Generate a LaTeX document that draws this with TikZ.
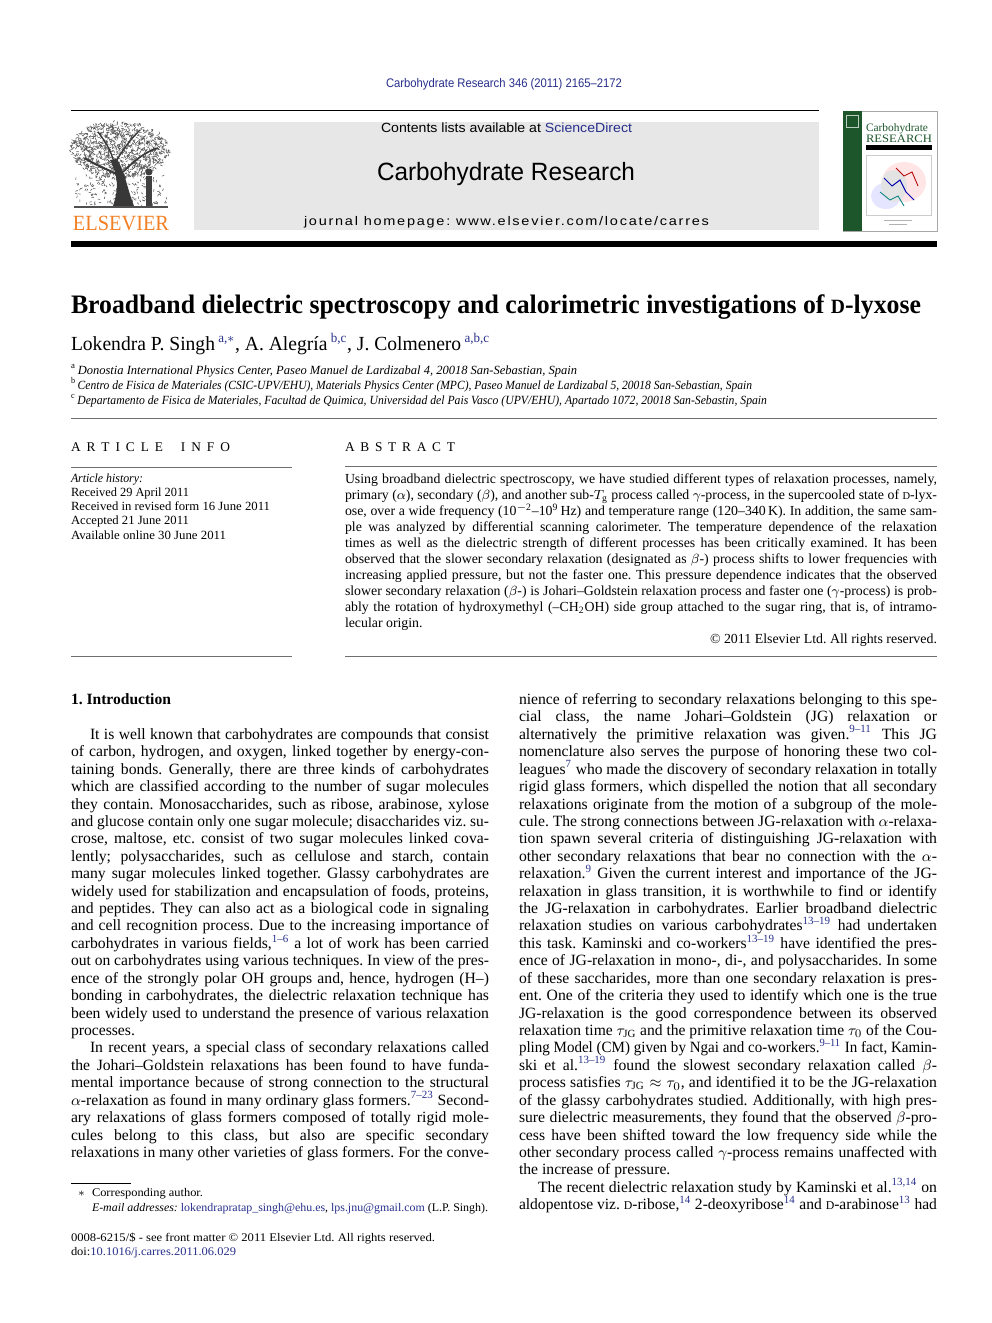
\documentclass[tikz,border=0pt]{standalone}
\usepackage{fontspec}
\setmainfont{Liberation Serif}
\setsansfont{Liberation Sans}
\newfontfamily\jsans[LetterSpace=12]{Liberation Sans}
\usepackage{graphicx}
\usepackage{xcolor}
\definecolor{lb}{RGB}{40,48,140}
\definecolor{elsor}{RGB}{243,128,36}
\definecolor{boxgray}{RGB}{231,231,231}
\definecolor{covgreen}{RGB}{30,86,44}
\definecolor{rulegray}{RGB}{110,110,110}
\definecolor{treegray}{RGB}{80,80,80}
\frenchspacing

\newsavebox\fitbox
\newcommand\fitline[2]{\sbox\fitbox{#2}\ifdim\wd\fitbox>#1\relax\resizebox{#1}{\height}{\usebox\fitbox}\else\makebox[#1][s]{#2}\fi}
\newcommand\fw[2]{\resizebox{#1}{\height}{#2}}
\newcommand\fsc[1]{\scalebox{0.76}{#1}}
\newcommand\supref[1]{\textsuperscript{\color{lb}#1}}
\newcounter{nid}

\newcommand\lcJ[2]{\stepcounter{nid}\node[body] (l\arabic{nid}) at (71,{704.5+(#1+1)*17.42}) {\fitline{250.8pt}{#2}};}
\newcommand\lcI[2]{\stepcounter{nid}\node[body] (l\arabic{nid}) at (90,{704.5+(#1+1)*17.42}) {\fitline{239.4pt}{#2}};}
\newcommand\lcE[2]{\stepcounter{nid}\node[body] (l\arabic{nid}) at (71,{704.5+(#1+1)*17.42}) {#2};}
\newcommand\rcJ[2]{\stepcounter{nid}\node[body] (r\arabic{nid}) at (519,{704.5+(#1-1)*17.42}) {\fitline{250.8pt}{#2}};}
\newcommand\rcI[2]{\stepcounter{nid}\node[body] (r\arabic{nid}) at (538,{704.5+(#1-1)*17.42}) {\fitline{239.4pt}{#2}};}
\newcommand\rcE[2]{\stepcounter{nid}\node[body] (r\arabic{nid}) at (519,{704.5+(#1-1)*17.42}) {#2};}
\newcommand\abJ[2]{\stepcounter{nid}\node[abst] (a\arabic{nid}) at (345,{483.5+(#1-1)*16}) {\fitline{355.2pt}{#2}};}
\newcommand\abE[2]{\stepcounter{nid}\node[abst] (a\arabic{nid}) at (345,{483.5+(#1-1)*16}) {#2};}

\tikzset{
  txt/.style={inner sep=0pt, outer sep=0pt},
  body/.style={txt, anchor=base west, font=\fontsize{9.4}{10.5}\selectfont},
  abst/.style={txt, anchor=base west, font=\fontsize{8.3}{9.6}\selectfont},
  info/.style={txt, anchor=base west, font=\fontsize{7.5}{9}\selectfont},
  foot/.style={txt, anchor=base west, font=\fontsize{7}{8.5}\selectfont},
  thinrule/.style={rulegray, line width=0.6pt},
}

\begin{document}
\begin{tikzpicture}[x=0.6pt,y=-0.6pt]
\useasboundingbox (0,0) rectangle (992,1323);
\fill[white] (0,0) rectangle (992,1323);

% ---------- header ----------
\node[txt, anchor=base] (cit) at (504,88) {\sffamily\fontsize{7.5}{9}\selectfont\color{lb}\fw{141.6pt}{Carbohydrate Research 346 (2011) 2165–2172}};
\draw[line width=0.6pt] (71,111) -- (819,111);

% Elsevier tree
\begin{scope}
\pgfmathsetseed{7}
\foreach \i in {1,...,1100}{
  \pgfmathsetmacro\ang{360*rnd}
  \pgfmathsetmacro\rr{sqrt(rnd)}
  \pgfmathsetmacro\cx{120+49*\rr*cos(\ang)}
  \pgfmathsetmacro\cy{150+28*\rr*sin(\ang)}
  \pgfmathsetmacro\dd{360*rnd}
  \draw[treegray, line width=0.3pt] (\cx,\cy) -- ++(\dd:2.6);
}
\foreach \i in {1,...,160}{
  \pgfmathsetmacro\cx{76+92*rnd}
  \pgfmathsetmacro\cy{176+29*rnd}
  \pgfmathsetmacro\dd{360*rnd}
  \draw[treegray, line width=0.3pt] (\cx,\cy) -- ++(\dd:2.5);
}
\end{scope}
\fill[treegray!70!black] (113,206) .. controls (119,188) and (118,176) .. (110,160) -- (117,159) .. controls (125,172) and (127,188) .. (134,206) -- cycle;
\draw[treegray!70!black, line width=1.2pt] (118,175) .. controls (105,168) and (95,165) .. (85,158);
\draw[treegray!70!black, line width=1.0pt] (123,172) .. controls (135,160) and (145,152) .. (158,148);
\draw[treegray!70!black, line width=0.8pt] (114,162) .. controls (110,148) and (104,140) .. (98,132);
\draw[treegray!70!black, line width=0.8pt] (117,160) .. controls (125,146) and (132,138) .. (140,130);
\fill[treegray!80!black] (146,206) rectangle (152,176);
\fill[treegray!80!black] (149,172) circle (3.5);
\draw[treegray, line width=0.9pt] (74,207) -- (168,207);
\node[txt, anchor=base] (elsevier) at (121,230) {\fontsize{13}{14}\selectfont\color{elsor}\fw{57.6pt}{ELSEVIER}};

% gray banner
\fill[boxgray] (194,122) rectangle (819,230);
\node[txt, anchor=base] (contents) at (506.5,132.5) {\sffamily\fontsize{8}{9}\selectfont\fw{150.6pt}{Contents lists available at {\color{lb}ScienceDirect}}};
\node[txt, anchor=base] (jtitle) at (506,181) {\sffamily\fontsize{15}{17}\selectfont\fw{154.8pt}{Carbohydrate Research}};
\node[txt, anchor=base] (homepage) at (506.5,225) {\jsans\fontsize{7.5}{9}\selectfont\fw{243pt}{journal homepage: www.elsevier.com/locate/carres}};

% cover
\draw[rulegray!60, line width=0.5pt] (843,111) rectangle (937,231);
\fill[covgreen] (843,111) rectangle (862,231);
\draw[white!70!covgreen, line width=0.4pt] (846,115) rectangle (858,127);
\node[txt, anchor=base west] (covt1) at (866,131.5) {\fontsize{6.8}{8}\selectfont\color{covgreen}\fw{37.2pt}{Carbohydrate}};
\node[txt, anchor=base west] (covt2) at (866,142.5) {\fontsize{6.8}{8}\selectfont\color{covgreen}\fw{39.6pt}{RESEARCH}};
\fill[black] (866,145.5) rectangle (932,150);
\draw[gray!40, line width=0.3pt] (866,155) rectangle (931,215);
\fill[red!10] (904,182) ellipse (22 and 20);
\fill[blue!10] (886,196) ellipse (15 and 13);
\fill[gray!22] (894,186) ellipse (13 and 16);
\draw[blue!70!black, line width=0.6pt] (884,178) -- (892,186) -- (900,180) -- (906,192) -- (914,200);
\draw[red!70!black, line width=0.5pt] (896,168) -- (904,176) -- (912,172) -- (918,186);
\draw[teal, line width=0.5pt] (880,192) -- (890,200) -- (898,196) -- (904,206);
\draw[gray!60, line width=0.3pt] (884,220) -- (912,220);
\draw[gray!60, line width=0.3pt] (889,224) -- (907,224);

\fill[black] (71,241) rectangle (937,247);

% ---------- title block ----------
\node[txt, anchor=base west] (title) at (71,313) {\fontsize{16}{19}\selectfont\bfseries\fw{510pt}{Broadband dielectric spectroscopy and calorimetric investigations of \fsc{D}-lyxose}};
\node[txt, anchor=base west] (authors) at (71,350) {\fontsize{12}{14}\selectfont\fw{251.4pt}{Lokendra P. Singh\,\supref{a,$\ast$}, A. Alegría\,\supref{b,c}, J. Colmenero\,\supref{a,b,c}}};
\node[txt, anchor=base west] (affa) at (71,374) {\fontsize{7.5}{9}\selectfont\itshape\fw{303.6pt}{\textsuperscript{\upshape a}\,Donostia International Physics Center, Paseo Manuel de Lardizabal 4, 20018 San-Sebastian, Spain}};
\node[txt, anchor=base west] (affb) at (71,389) {\fontsize{7.5}{9}\selectfont\itshape\fw{408.6pt}{\textsuperscript{\upshape b}\,Centro de Fisica de Materiales (CSIC-UPV/EHU), Materials Physics Center (MPC), Paseo Manuel de Lardizabal 5, 20018 San-Sebastian, Spain}};
\node[txt, anchor=base west] (affc) at (71,404) {\fontsize{7.5}{9}\selectfont\itshape\fw{417.6pt}{\textsuperscript{\upshape c}\,Departamento de Fisica de Materiales, Facultad de Quimica, Universidad del Pais Vasco (UPV/EHU), Apartado 1072, 20018 San-Sebastin, Spain}};
\draw[thinrule] (71,418) -- (937,418);

% ---------- article info ----------
\node[txt, anchor=base west] (aihead) at (71,451) {\fontsize{8}{9}\selectfont\makebox[95.4pt][s]{A\hfil R\hfil T\hfil I\hfil C\hfil L\hfil E\hfil\hfil\hfil I\hfil N\hfil F\hfil O}};
\draw[thinrule] (71,467) -- (292,467);
\node[info] (ai1) at (71,482) {\fw{43.2pt}{\itshape Article history:}};
\node[info] (ai2) at (71,496) {\fw{70.8pt}{Received 29 April 2011}};
\node[info] (ai3) at (71,510) {\fw{119.4pt}{Received in revised form 16 June 2011}};
\node[info] (ai4) at (71,524) {\fw{70.8pt}{Accepted 21 June 2011}};
\node[info] (ai5) at (71,539) {\fw{93pt}{Available online 30 June 2011}};
\draw[thinrule] (71,656) -- (292,656);

% ---------- abstract ----------
\node[txt, anchor=base west] (abhead) at (345,451) {\fontsize{8}{9}\selectfont\makebox[66pt][s]{A\hfil B\hfil S\hfil T\hfil R\hfil A\hfil C\hfil T}};
\draw[thinrule] (345,466) -- (937,466);
\abJ{1}{Using broadband dielectric spectroscopy, we have studied different types of relaxation processes, namely,}
\abJ{2}{primary ($\alpha$), secondary ($\beta$), and another sub-$T_{\mathrm g}$ process called $\gamma$-process, in the supercooled state of \fsc{D}-lyx-}
\abJ{3}{ose, over a wide frequency (10\textsuperscript{$-$2}–10\textsuperscript{9}\,Hz) and temperature range (120–340\,K). In addition, the same sam-}
\abJ{4}{ple was analyzed by differential scanning calorimeter. The temperature dependence of the relaxation}
\abJ{5}{times as well as the dielectric strength of different processes has been critically examined. It has been}
\abJ{6}{observed that the slower secondary relaxation (designated as $\beta$-) process shifts to lower frequencies with}
\abJ{7}{increasing applied pressure, but not the faster one. This pressure dependence indicates that the observed}
\abJ{8}{slower secondary relaxation ($\beta$-) is Johari–Goldstein relaxation process and faster one ($\gamma$-process) is prob-}
\abJ{9}{ably the rotation of hydroxymethyl (–CH\textsubscript{2}OH) side group attached to the sugar ring, that is, of intramo-}
\abE{10}{lecular origin.}
\node[abst, anchor=base east] (copy) at (937,643.5) {\fw{136.2pt}{© 2011 Elsevier Ltd. All rights reserved.}};
\draw[thinrule] (345,656) -- (937,656);

% ---------- left column ----------
\node[body] (intro) at (71,704.5) {\fw{60pt}{\bfseries 1. Introduction}};
\lcI{1}{It is well known that carbohydrates are compounds that consist}
\lcJ{2}{of carbon, hydrogen, and oxygen, linked together by energy-con-}
\lcJ{3}{taining bonds. Generally, there are three kinds of carbohydrates}
\lcJ{4}{which are classified according to the number of sugar molecules}
\lcJ{5}{they contain. Monosaccharides, such as ribose, arabinose, xylose}
\lcJ{6}{and glucose contain only one sugar molecule; disaccharides viz. su-}
\lcJ{7}{crose, maltose, etc. consist of two sugar molecules linked cova-}
\lcJ{8}{lently; polysaccharides, such as cellulose and starch, contain}
\lcJ{9}{many sugar molecules linked together. Glassy carbohydrates are}
\lcJ{10}{widely used for stabilization and encapsulation of foods, proteins,}
\lcJ{11}{and peptides. They can also act as a biological code in signaling}
\lcJ{12}{and cell recognition process. Due to the increasing importance of}
\lcJ{13}{carbohydrates in various fields,\supref{1–6} a lot of work has been carried}
\lcJ{14}{out on carbohydrates using various techniques. In view of the pres-}
\lcJ{15}{ence of the strongly polar OH groups and, hence, hydrogen (H–)}
\lcJ{16}{bonding in carbohydrates, the dielectric relaxation technique has}
\lcJ{17}{been widely used to understand the presence of various relaxation}
\lcE{18}{processes.}
\lcI{19}{In recent years, a special class of secondary relaxations called}
\lcJ{20}{the Johari–Goldstein relaxations has been found to have funda-}
\lcJ{21}{mental importance because of strong connection to the structural}
\lcJ{22}{$\alpha$-relaxation as found in many ordinary glass formers.\supref{7–23} Second-}
\lcJ{23}{ary relaxations of glass formers composed of totally rigid mole-}
\lcJ{24}{cules belong to this class, but also are specific secondary}
\lcJ{25}{relaxations in many other varieties of glass formers. For the conve-}

% ---------- right column ----------
\rcJ{1}{nience of referring to secondary relaxations belonging to this spe-}
\rcJ{2}{cial class, the name Johari–Goldstein (JG) relaxation or}
\rcJ{3}{alternatively the primitive relaxation was given.\supref{9–11} This JG}
\rcJ{4}{nomenclature also serves the purpose of honoring these two col-}
\rcJ{5}{leagues\supref{7} who made the discovery of secondary relaxation in totally}
\rcJ{6}{rigid glass formers, which dispelled the notion that all secondary}
\rcJ{7}{relaxations originate from the motion of a subgroup of the mole-}
\rcJ{8}{cule. The strong connections between JG-relaxation with $\alpha$-relaxa-}
\rcJ{9}{tion spawn several criteria of distinguishing JG-relaxation with}
\rcJ{10}{other secondary relaxations that bear no connection with the $\alpha$-}
\rcJ{11}{relaxation.\supref{9} Given the current interest and importance of the JG-}
\rcJ{12}{relaxation in glass transition, it is worthwhile to find or identify}
\rcJ{13}{the JG-relaxation in carbohydrates. Earlier broadband dielectric}
\rcJ{14}{relaxation studies on various carbohydrates\supref{13–19} had undertaken}
\rcJ{15}{this task. Kaminski and co-workers\supref{13–19} have identified the pres-}
\rcJ{16}{ence of JG-relaxation in mono-, di-, and polysaccharides. In some}
\rcJ{17}{of these saccharides, more than one secondary relaxation is pres-}
\rcJ{18}{ent. One of the criteria they used to identify which one is the true}
\rcJ{19}{JG-relaxation is the good correspondence between its observed}
\rcJ{20}{relaxation time $\tau_{\mathrm{JG}}$ and the primitive relaxation time $\tau_0$ of the Cou-}
\rcJ{21}{pling Model (CM) given by Ngai and co-workers.\supref{9–11} In fact, Kamin-}
\rcJ{22}{ski et al.\supref{13–19} found the slowest secondary relaxation called $\beta$-}
\rcJ{23}{process satisfies $\tau_{\mathrm{JG}}\approx\tau_0$, and identified it to be the JG-relaxation}
\rcJ{24}{of the glassy carbohydrates studied. Additionally, with high pres-}
\rcJ{25}{sure dielectric measurements, they found that the observed $\beta$-pro-}
\rcJ{26}{cess have been shifted toward the low frequency side while the}
\rcJ{27}{other secondary process called $\gamma$-process remains unaffected with}
\rcE{28}{the increase of pressure.}
\rcI{29}{The recent dielectric relaxation study by Kaminski et al.\supref{13,14} on}
\rcJ{30}{aldopentose viz. \fsc{D}-ribose,\supref{14} 2-deoxyribose\supref{14} and \fsc{D}-arabinose\supref{13} had}

% ---------- footnotes ----------
\draw[line width=0.5pt] (71,1183) -- (131,1183);
\node[foot] (star) at (78,1196) {$\ast$};
\node[foot] (corr) at (92,1196) {\fw{66.6pt}{Corresponding author.}};
\node[foot] (email) at (92,1211) {\fw{237.6pt}{\textit{E-mail addresses:} {\color{lb}lokendrapratap\_singh@ehu.es}, {\color{lb}lps.jnu@gmail.com} (L.P. Singh).}};
\node[foot] (issn) at (71,1241) {\fw{218.4pt}{0008-6215/\$ - see front matter © 2011 Elsevier Ltd. All rights reserved.}};
\node[foot] (doi) at (71,1255) {\fw{99pt}{doi:{\color{lb}10.1016/j.carres.2011.06.029}}};
\end{tikzpicture}
\end{document}
